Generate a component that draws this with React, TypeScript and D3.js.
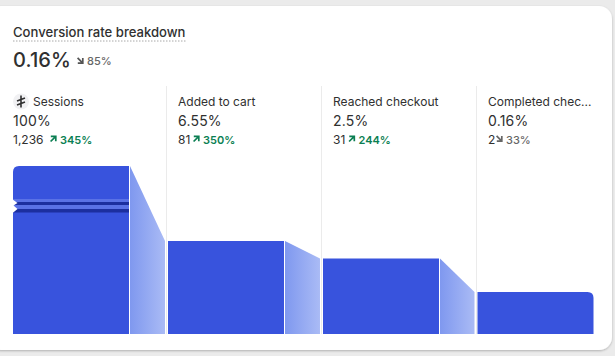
import React from "react";
import * as d3 from "d3";

const steps = ["Sessions", "Added to cart", "Reached checkout", "Completed chec..."];
const rates = [100, 6.55, 2.5, 0.16];
const rateLabels = ["100%", "6.55%", "2.5%", "0.16%"];
const counts = ["1,236", "81", "31", "2"];
const deltas = ["345%", "350%", "244%", "33%"];
const deltaUp = [true, true, true, false];
const countWidths = [31, 13.5, 14, 6.5];

const BLUE = "#3853dd";
const FONT = "Inter, sans-serif";

const y = d3.scalePow().exponent(0.22).domain([0.16, 100]).range([292, 166]);
const baseY = 334;
const barW = 116;

function Arrow({ x: ax, y: ay, up, color }: { x: number; y: number; up: boolean; color: string }) {
  const d = up
    ? `M${ax + 0.8} ${ay + 0.8}H${ax + 5.8}V${ay + 5.8}M${ax + 5.8} ${ay + 0.8}L${ax + 0.6} ${ay + 6}`
    : `M${ax + 0.8} ${ay + 5.6}H${ax + 5.8}V${ay + 0.6}M${ax + 5.8} ${ay + 5.6}L${ax + 0.6} ${ay + 0.4}`;
  return <path d={d} fill="none" stroke={color} strokeWidth={1.7} />;
}

export default function App() {
  const cols = [13, 168, 323, 477.5];
  const textX = [13, 178, 333, 488];
  const dividers = [166.5, 321.5, 476.5];
  const area = d3.area<[number, number]>().x(d => d[0]).y0(baseY).y1(d => d[1]);
  return (
    <svg
      width={615}
      height={356}
      style={{ position: "absolute", left: 0, top: 0, display: "block", fontFamily: FONT }}
    >
      <defs>
        <linearGradient id="conn" x1="0" x2="1" y1="0" y2="0">
          <stop offset="0" stopColor="#7f98ef" />
          <stop offset="1" stopColor="#aabbf5" />
        </linearGradient>
        <filter id="sh" x="-5%" y="-5%" width="110%" height="110%">
          <feDropShadow dx="0" dy="1" stdDeviation="1" floodColor="#000" floodOpacity="0.25" />
        </filter>
      </defs>
      <rect width={615} height={356} fill="#ebebeb" />
      <rect x={-12} y={6} width={624} height={344} rx={13} fill="#fff" filter="url(#sh)" />

      <text x={13} y={37} fontSize={13.1} fontWeight={550} fill="#303030">Conversion rate breakdown</text>
      <line x1={13} x2={186} y1={41} y2={41} stroke="#a8a8a8" strokeDasharray="1.5 1.5" />
      <text x={13} y={66.5} fontSize={20} fontWeight={500} letterSpacing={0.1} fill="#303030">0.16%</text>
      <Arrow x={77} y={57.5} up={false} color="#555" />
      <text x={87} y={65} fontSize={11} fontWeight={500} fill="#666">85%</text>

      {dividers.map(d => (
        <line key={d} x1={d} x2={d} y1={86} y2={334} stroke="#ebebeb" />
      ))}

      <circle cx={21} cy={101.5} r={8} fill="#f1f1f3" />
      <path d="M21 95.5V107.5M17 101L25 98M17 105L25 102" stroke="#303030" strokeWidth={1.6} fill="none" />

      {steps.map((s, i) => {
        const left = i === 0 ? 33 : textX[i];
        const good = deltaUp[i];
        const color = good ? "#0c7f53" : "#666";
        const cw = countWidths[i];
        const ax = textX[i] + cw + (i === 0 ? 6 : 1.5);
        return (
          <g key={s}>
            <text x={left} y={106} fontSize={12} fill="#303030">{s}</text>
            <text x={textX[i]} y={126} fontSize={14} letterSpacing={0.2} fill="#303030">{rateLabels[i]}</text>
            <text x={textX[i]} y={144} fontSize={12} fill="#303030">{counts[i]}</text>
            <Arrow x={ax} y={135.5} up={good} color={color} />
            <text x={ax + 10} y={143.5} fontSize={11} fontWeight={good ? 600 : 500} fill={color}>{deltas[i]}</text>
          </g>
        );
      })}

      {rates.map((r, i) => {
        const left = cols[i];
        const right = left + barW;
        const top = y(r);
        const rad = i === 0 || i === 3 ? 6 : 0;
        const d =
          i === 0
            ? `M${left} ${baseY}V${top + rad}Q${left} ${top} ${left + rad} ${top}H${right}V${baseY}Z`
            : i === 3
            ? `M${left} ${baseY}V${top}H${right - rad}Q${right} ${top} ${right} ${top + rad}V${baseY}Z`
            : `M${left} ${baseY}V${top}H${right}V${baseY}Z`;
        return <path key={steps[i]} d={d} fill={BLUE} />;
      })}

      <rect x={13} y={199} width={116} height={3} fill="#5a72e6" />
      <rect x={13} y={202} width={116} height={3} fill="#1c2f9f" />
      <rect x={13} y={205} width={116} height={4} fill="#5a72e6" />
      <rect x={13} y={209} width={116} height={3.5} fill="#1c2f9f" />
      <path d="M12 199L17.5 203L13.5 205.5L17.5 209L12 213.5Z" fill="#fff" />

      {rates.slice(0, 3).map((r, i) => {
        const x0 = cols[i] + barW + 1;
        const x1 = cols[i + 1] - 3;
        const pts: [number, number][] = [[x0, y(r)], [x1, y(rates[i + 1])]];
        return <path key={i} d={area(pts) + ""} fill="url(#conn)" />;
      })}
    </svg>
  );
}
